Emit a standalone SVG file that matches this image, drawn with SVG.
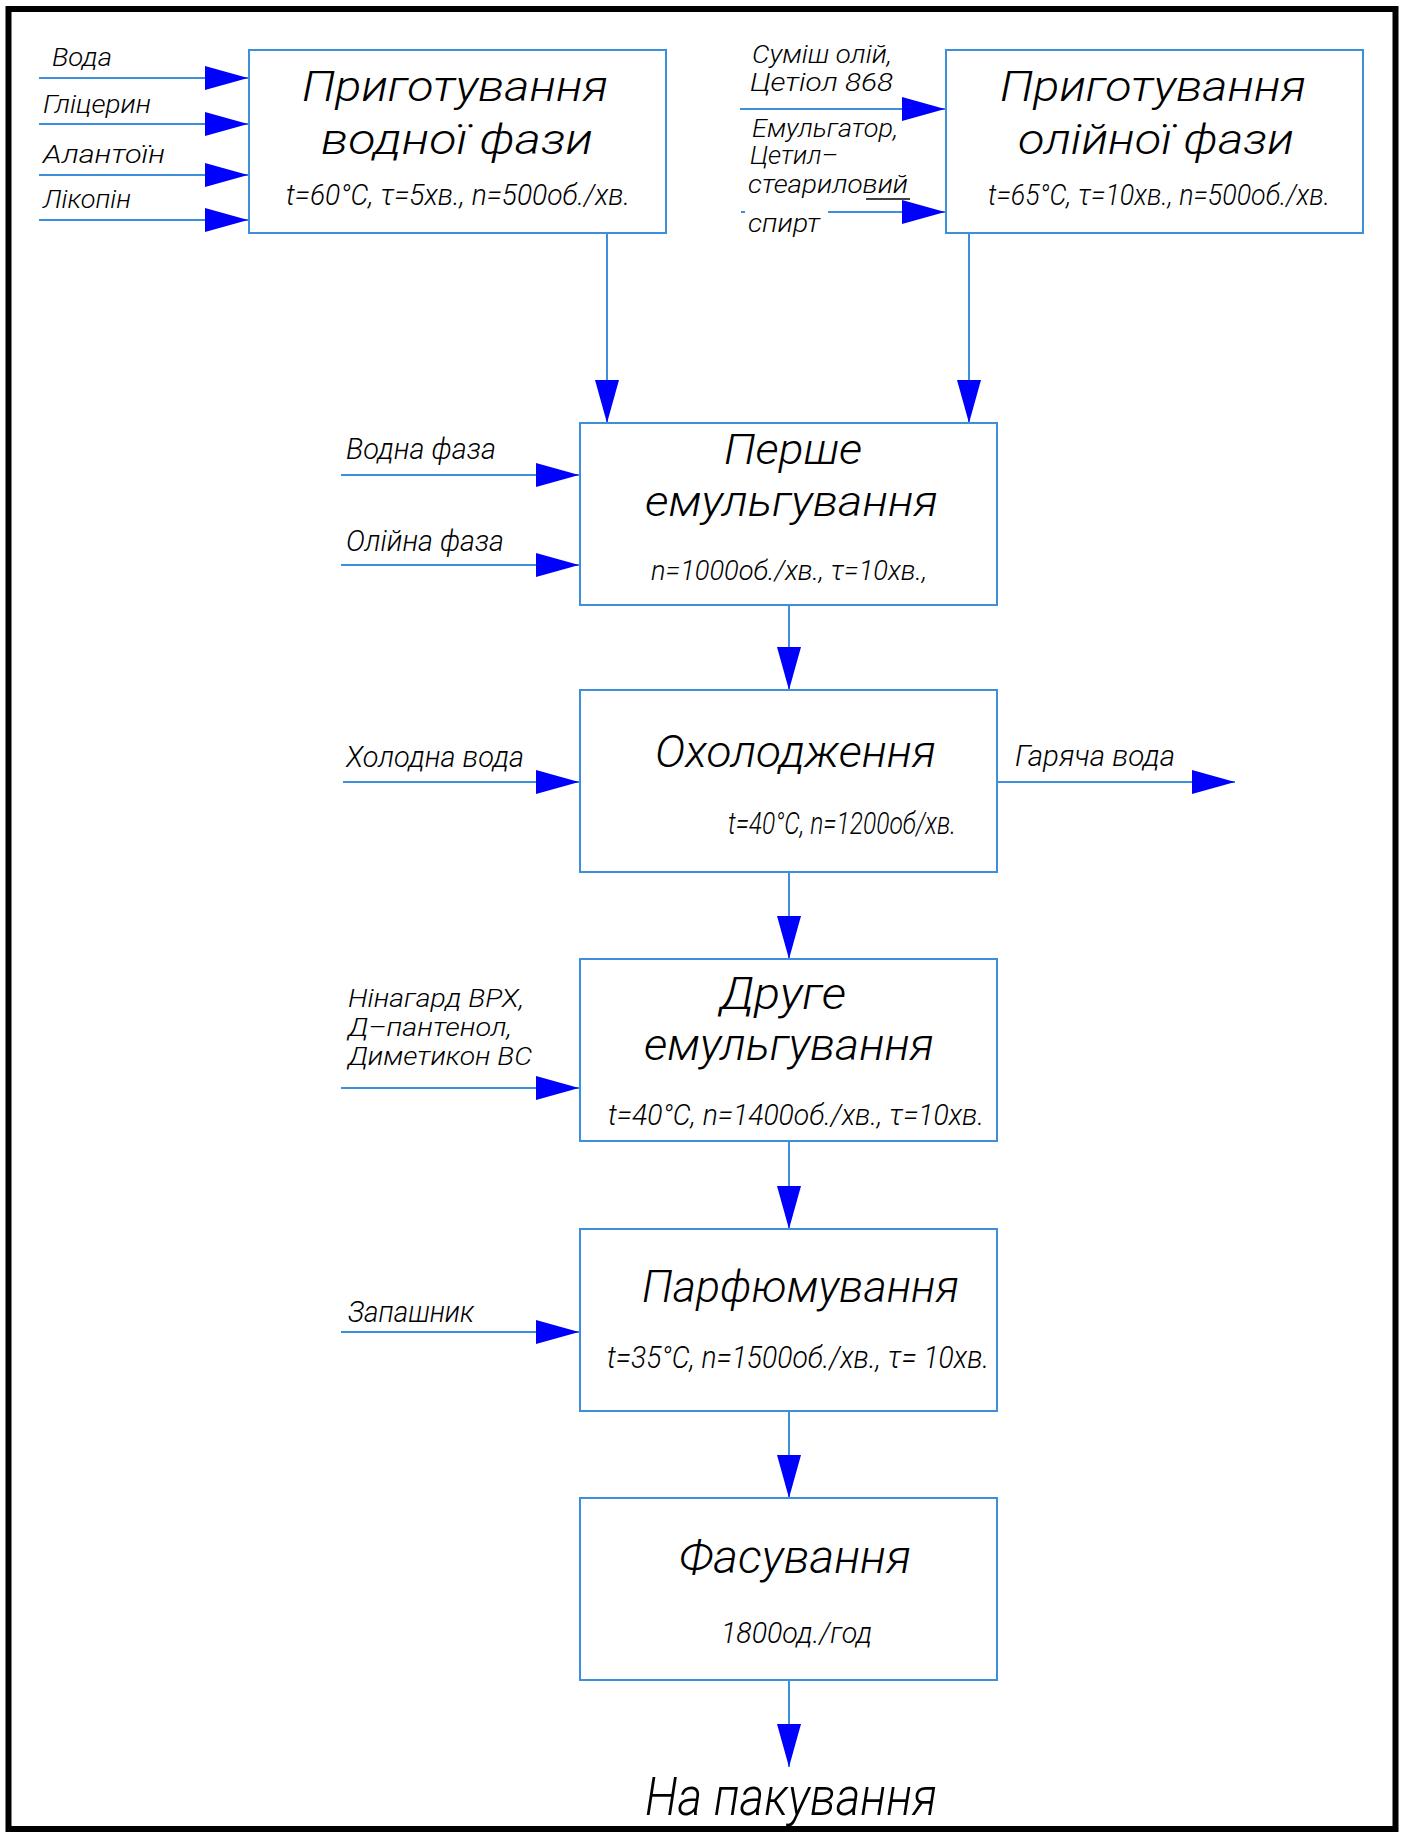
<svg xmlns="http://www.w3.org/2000/svg" width="1405" height="1832" viewBox="0 0 1405 1832">
<style>
.box{fill:#fff;stroke:#3d8fdc;stroke-width:2}
.ln{fill:none;stroke:#3d8fdc;stroke-width:2}
text{font-family:Roboto,"Liberation Sans",sans-serif;font-style:italic;font-weight:300;fill:#000}
.t{font-size:43px}
.s{font-size:30px}
.l{font-size:26px}
.k{font-size:26px}
.m{font-size:30px}
.n{font-size:26px}
</style>
<defs>
<marker id="ah" markerUnits="userSpaceOnUse" markerWidth="44" markerHeight="24" refX="43" refY="12" orient="auto" viewBox="0 0 44 24">
<path d="M0,0 L43,12 L0,24 Z" fill="#0000ff"/>
</marker>
</defs>
<rect x="8.5" y="9" width="1387" height="1820" fill="#fff" stroke="#000" stroke-width="6"/>
<g id="connectors">
<line class="ln" x1="39" y1="78" x2="248" y2="78" marker-end="url(#ah)"/>
<line class="ln" x1="39" y1="124" x2="248" y2="124" marker-end="url(#ah)"/>
<line class="ln" x1="39" y1="175" x2="248" y2="175" marker-end="url(#ah)"/>
<line class="ln" x1="39" y1="220" x2="248" y2="220" marker-end="url(#ah)"/>
<line class="ln" x1="740" y1="109" x2="945" y2="109" marker-end="url(#ah)"/>
<line class="ln" x1="741" y1="212" x2="745" y2="212"/>
<line class="ln" x1="828" y1="212" x2="945" y2="212" marker-end="url(#ah)"/>
<line class="ln" x1="607" y1="233" x2="607" y2="423" marker-end="url(#ah)"/>
<line class="ln" x1="969" y1="233" x2="969" y2="423" marker-end="url(#ah)"/>
<line class="ln" x1="341" y1="475" x2="579" y2="475" marker-end="url(#ah)"/>
<line class="ln" x1="341" y1="565" x2="579" y2="565" marker-end="url(#ah)"/>
<line class="ln" x1="789" y1="605" x2="789" y2="690" marker-end="url(#ah)"/>
<line class="ln" x1="343" y1="782" x2="579" y2="782" marker-end="url(#ah)"/>
<line class="ln" x1="997" y1="782" x2="1235" y2="782" marker-end="url(#ah)"/>
<line class="ln" x1="789" y1="872" x2="789" y2="959" marker-end="url(#ah)"/>
<line class="ln" x1="341" y1="1088" x2="579" y2="1088" marker-end="url(#ah)"/>
<line class="ln" x1="789" y1="1141" x2="789" y2="1229" marker-end="url(#ah)"/>
<line class="ln" x1="341" y1="1332" x2="579" y2="1332" marker-end="url(#ah)"/>
<line class="ln" x1="789" y1="1411" x2="789" y2="1498" marker-end="url(#ah)"/>
<line class="ln" x1="789" y1="1680" x2="789" y2="1767" marker-end="url(#ah)"/>
</g>
<g id="labels">
<text class="l" x="52" y="66" textLength="60" lengthAdjust="spacingAndGlyphs">Вода</text>
<text class="l" x="43" y="113" textLength="108" lengthAdjust="spacingAndGlyphs">Гліцерин</text>
<text class="l" x="43" y="163" textLength="122" lengthAdjust="spacingAndGlyphs">Алантоїн</text>
<text class="l" x="43" y="208" textLength="88" lengthAdjust="spacingAndGlyphs">Лікопін</text>
<text class="k" x="752" y="63" textLength="140" lengthAdjust="spacingAndGlyphs">Суміш олій,</text>
<text class="k" x="750" y="91" textLength="143" lengthAdjust="spacingAndGlyphs">Цетіол 868</text>
<text class="k" x="752" y="137" textLength="146" lengthAdjust="spacingAndGlyphs">Емульгатор,</text>
<text class="k" x="750" y="164" textLength="88" lengthAdjust="spacingAndGlyphs">Цетил–</text>
<text class="k" x="748" y="193" textLength="160" lengthAdjust="spacingAndGlyphs">стеариловий</text>
<line x1="866" y1="199" x2="910" y2="199" stroke="#000" stroke-width="1.5"/>
<text class="k" x="748" y="232" textLength="72" lengthAdjust="spacingAndGlyphs">спирт</text>
<text class="m" x="346" y="459" textLength="150" lengthAdjust="spacingAndGlyphs">Водна фаза</text>
<text class="m" x="346" y="551" textLength="158" lengthAdjust="spacingAndGlyphs">Олійна фаза</text>
<text class="m" x="346" y="767" textLength="178" lengthAdjust="spacingAndGlyphs">Холодна вода</text>
<text class="m" x="1015" y="766" textLength="160" lengthAdjust="spacingAndGlyphs">Гаряча вода</text>
<text class="n" x="348" y="1007" textLength="176" lengthAdjust="spacingAndGlyphs">Нінагард ВРХ,</text>
<text class="n" x="348" y="1036" textLength="164" lengthAdjust="spacingAndGlyphs">Д–пантенол,</text>
<text class="n" x="348" y="1065" textLength="184" lengthAdjust="spacingAndGlyphs">Диметикон ВС</text>
<text class="m" x="348" y="1322" textLength="126" lengthAdjust="spacingAndGlyphs">Запашник</text>
</g>
<g id="node-water-phase">
<rect class="box" x="249" y="50" width="417" height="183"/>
<text class="t" x="302" y="101" textLength="306" lengthAdjust="spacingAndGlyphs">Приготування</text>
<text class="t" x="321" y="154" textLength="272" lengthAdjust="spacingAndGlyphs">водної  фази</text>
<text class="s" x="286" y="205" textLength="344" lengthAdjust="spacingAndGlyphs">t=60°C, τ=5хв., n=500об./хв.</text>
</g>
<g id="node-oil-phase">
<rect class="box" x="946" y="50" width="417" height="183"/>
<text class="t" x="1000" y="101" textLength="306" lengthAdjust="spacingAndGlyphs">Приготування</text>
<text class="t" x="1018" y="154" textLength="276" lengthAdjust="spacingAndGlyphs">олійної  фази</text>
<text class="s" x="988" y="205" textLength="342" lengthAdjust="spacingAndGlyphs">t=65°C, τ=10хв., n=500об./хв.</text>
</g>
<g id="node-first-emulsification">
<rect class="box" x="580" y="423" width="417" height="182"/>
<text class="t" x="724" y="464" textLength="138" lengthAdjust="spacingAndGlyphs">Перше</text>
<text class="t" x="645" y="516" textLength="293" lengthAdjust="spacingAndGlyphs">емульгування</text>
<text class="s" x="651" y="580" style="font-size:28px" textLength="276" lengthAdjust="spacingAndGlyphs">n=1000об./хв., τ=10хв.,</text>
</g>
<g id="node-cooling">
<rect class="box" x="580" y="690" width="417" height="182"/>
<text class="t" x="655" y="767" style="font-size:44px" textLength="281" lengthAdjust="spacingAndGlyphs">Охолодження</text>
<text class="s" x="728" y="834" style="font-size:31px" textLength="228" lengthAdjust="spacingAndGlyphs">t=40°C, n=1200об/хв.</text>
</g>
<g id="node-second-emulsification">
<rect class="box" x="580" y="959" width="417" height="182"/>
<text class="t" x="720" y="1009" style="font-size:44px" textLength="126" lengthAdjust="spacingAndGlyphs">Друге</text>
<text class="t" x="644" y="1060" style="font-size:44px" textLength="290" lengthAdjust="spacingAndGlyphs">емульгування</text>
<text class="s" x="608" y="1125" textLength="376" lengthAdjust="spacingAndGlyphs">t=40°C, n=1400об./хв., τ=10хв.</text>
</g>
<g id="node-perfuming">
<rect class="box" x="580" y="1229" width="417" height="182"/>
<text class="t" x="642" y="1302" style="font-size:44px" textLength="317" lengthAdjust="spacingAndGlyphs">Парфюмування</text>
<text class="s" x="607" y="1368" style="font-size:31px" textLength="382" lengthAdjust="spacingAndGlyphs">t=35°C, n=1500об./хв., τ= 10хв.</text>
</g>
<g id="node-filling">
<rect class="box" x="580" y="1498" width="417" height="182"/>
<text class="t" x="679" y="1573" style="font-size:46px" textLength="232" lengthAdjust="spacingAndGlyphs">Фасування</text>
<text class="s" x="721" y="1643" textLength="151" lengthAdjust="spacingAndGlyphs">1800од./год</text>
</g>
<g id="node-packing">
<text x="645" y="1815" style="font-size:54px" textLength="292" lengthAdjust="spacingAndGlyphs">На пакування</text>
</g>
</svg>
